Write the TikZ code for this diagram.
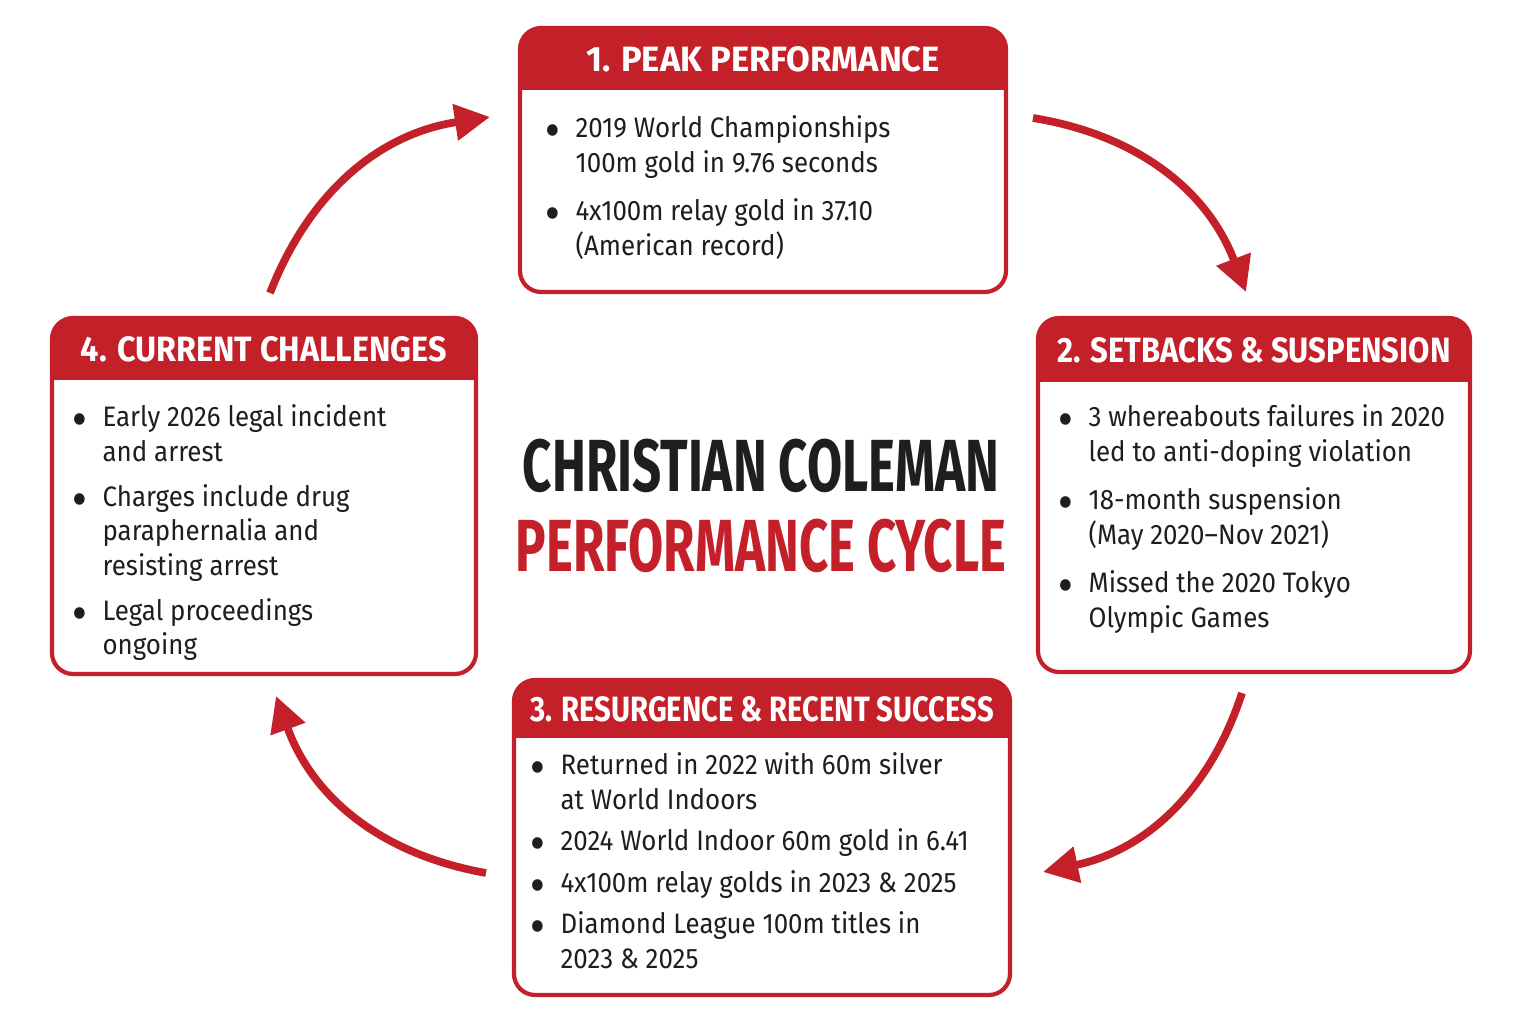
\documentclass[tikz,border=0pt]{standalone}
\usepackage{fontspec}
\setmainfont{Fira Sans}
\usetikzlibrary{arrows.meta}
\definecolor{vermelho}{RGB}{196,32,42}
\definecolor{tinta}{RGB}{30,30,30}
\tikzset{
  caixa/.style={draw=vermelho, line width=1.2pt, rounded corners=6pt},
  cabeca/.style={text=white, font=\bfseries\fontsize{10}{12}\selectfont},
  corpo/.style={anchor=north west, align=left, text=tinta, font=\fontsize{8}{9.8}\selectfont, inner sep=0pt},
  seta/.style={draw=vermelho, line width=2.2pt, -{Triangle[length=10pt,width=10pt]}}
}
\newcommand{\cab}[2][0.88]{\scalebox{#1}[1]{#2}}
\newcommand{\lista}[1]{\scalebox{0.92}[1]{\begin{tabular}{@{}l@{\hspace{5pt}}l@{}}#1\end{tabular}}}
\begin{document}
\begin{tikzpicture}[x=0.01cm, y=-0.01cm]
    \useasboundingbox (0,0) rectangle (1523,1024);

    % Caixas
    \newcommand{\caixa}[6]{%
      \fill[vermelho, rounded corners=6pt] (#1,#2) rectangle (#3,#5);
      \fill[vermelho] (#1,#5-12) rectangle (#3,#5);
      \fill[white] (#1,#5) rectangle (#3,#4-10);
      \draw[caixa] (#1,#2) rectangle (#3,#4);
      \node[cabeca] (#6) at ({(#1+#3)/2},{(#2+#5)/2}) {};
    }
    \caixa{520}{28}{1006}{292}{90}{h1}
    \caixa{1038}{318}{1470}{672}{382}{h2}
    \caixa{514}{680}{1010}{995}{738}{h3}
    \caixa{52}{318}{476}{674}{380}{h4}

    \node[cabeca] at (h1) {\cab[0.98]{1. PEAK PERFORMANCE}};
    \node[cabeca] at (h2) {\cab{2. SETBACKS \& SUSPENSION}};
    \node[cabeca] at (h3) {\cab[0.83]{3. RESURGENCE \& RECENT SUCCESS}};
    \node[cabeca] at (h4) {\cab[0.92]{4. CURRENT CHALLENGES}};

    % Textos
    \node[corpo] (t1) at (545,113) {\lista{
      $\bullet$ & 2019 World Championships\\ & 100m gold in 9.76 seconds\\[4pt]
      $\bullet$ & 4x100m relay gold in 37.10\\ & (American record)}};
    \node[corpo] (t2) at (1058,402) {\lista{
      $\bullet$ & 3 whereabouts failures in 2020\\ & led to anti-doping violation\\[4pt]
      $\bullet$ & 18-month suspension\\ & (May 2020–Nov 2021)\\[4pt]
      $\bullet$ & Missed the 2020 Tokyo\\ & Olympic Games}};
    \node[corpo] (t3) at (530,750) {\lista{
      $\bullet$ & Returned in 2022 with 60m silver\\ & at World Indoors\\[2pt]
      $\bullet$ & 2024 World Indoor 60m gold in 6.41\\[2pt]
      $\bullet$ & 4x100m relay golds in 2023 \& 2025\\[2pt]
      $\bullet$ & Diamond League 100m titles in\\ & 2023 \& 2025}};
    \node[corpo] (t4) at (72,402) {\lista{
      $\bullet$ & Early 2026 legal incident\\ & and arrest\\[3pt]
      $\bullet$ & Charges include drug\\ & paraphernalia and\\ & resisting arrest\\[3pt]
      $\bullet$ & Legal proceedings\\ & ongoing}};

    % Titulo
    \node[text=tinta, font=\bfseries\fontsize{21}{24}\selectfont] (titulo) at (761,466) {\scalebox{0.69}[1]{CHRISTIAN COLEMAN}};
    \node[text=vermelho, font=\bfseries\fontsize{21}{24}\selectfont] (subtitulo) at (761,546) {\scalebox{0.69}[1]{PERFORMANCE CYCLE}};

    % Setas
    \coordinate (a1) at (270,293); \coordinate (b1) at (490,117);
    \coordinate (a2) at (1033,118); \coordinate (b2) at (1246,292);
    \coordinate (a3) at (1242,693); \coordinate (b3) at (1043,872);
    \coordinate (a4) at (486,873); \coordinate (b4) at (276,696);
    \draw[seta] (a1) to[bend left=30] (b1);
    \draw[seta] (a2) to[bend left=30] (b2);
    \draw[seta] (a3) to[bend left=30] (b3);
    \draw[seta] (a4) to[bend left=30] (b4);
\end{tikzpicture}
\end{document}
